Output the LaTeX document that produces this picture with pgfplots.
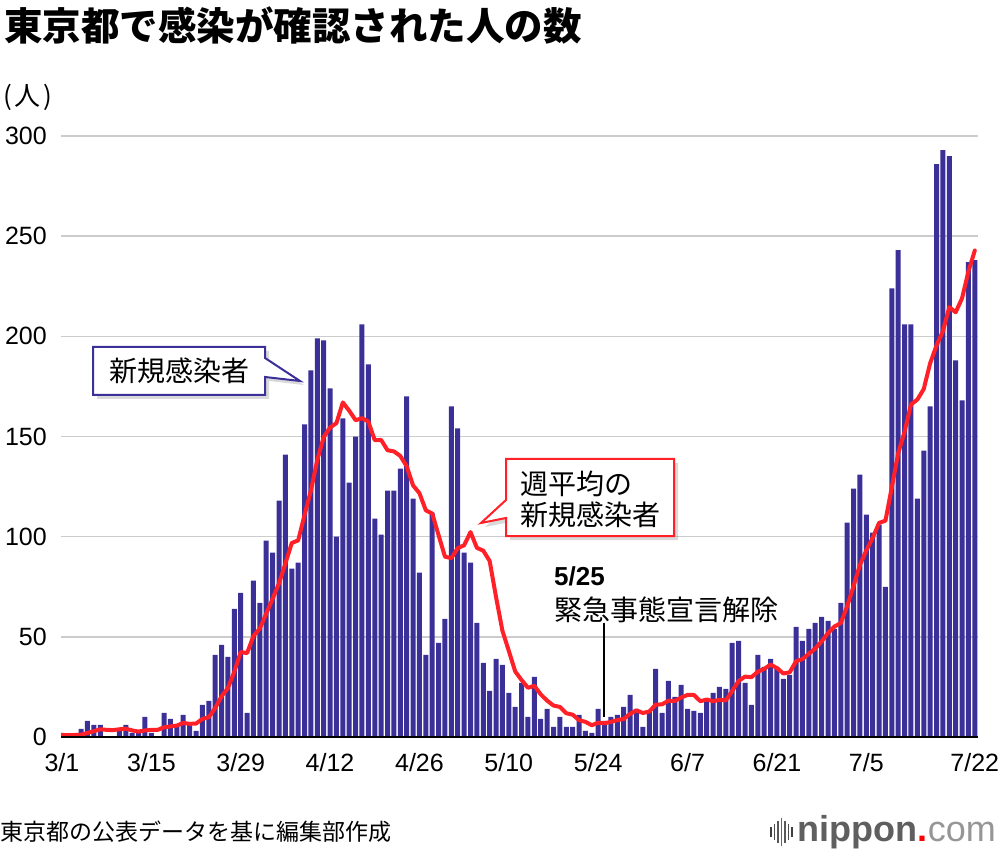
\documentclass[border=0pt]{standalone}
\usepackage{pgfplots}
\pgfplotsset{compat=1.18}
\usepackage{pgfplotstable}
\usepackage{fontspec}
\setmainfont{Liberation Sans}
\newfontfamily\cjk{Noto Sans CJK JP}
\usetikzlibrary{shadows}
\definecolor{barblue}{RGB}{59,47,152}
\definecolor{linered}{RGB}{255,32,40}
\definecolor{gridgray}{RGB}{204,204,204}
\definecolor{logogray}{RGB}{95,95,95}
\definecolor{logolight}{RGB}{150,150,150}

\pgfplotstableread{
d v
0 2
1 1
2 0
3 4
4 8
5 6
6 6
7 0
8 0
9 3
10 6
11 2
12 2
13 10
14 2
15 0
16 12
17 9
18 5
19 11
20 7
21 3
22 16
23 18
24 41
25 46
26 40
27 64
28 72
29 12
30 78
31 67
32 98
33 92
34 118
35 141
36 84
37 87
38 156
39 183
40 199
41 198
42 174
43 100
44 159
45 127
46 150
47 206
48 186
49 109
50 101
51 123
52 123
53 134
54 170
55 119
56 82
57 41
58 112
59 47
60 59
61 165
62 154
63 92
64 87
65 57
66 37
67 23
68 39
69 36
70 22
71 15
72 27
73 10
74 30
75 9
76 14
77 5
78 10
79 5
80 5
81 11
82 3
83 2
84 14
85 8
86 10
87 11
88 15
89 21
90 14
91 5
92 13
93 34
94 12
95 28
96 20
97 26
98 14
99 13
100 12
101 18
102 22
103 25
104 24
105 47
106 48
107 27
108 16
109 41
110 35
111 39
112 35
113 29
114 31
115 55
116 48
117 54
118 57
119 60
120 58
121 54
122 67
123 107
124 124
125 131
126 111
127 102
128 106
129 75
130 224
131 243
132 206
133 206
134 119
135 143
136 165
137 286
138 293
139 290
140 188
141 168
142 237
143 238
}\daily

\pgfplotstableread{
d a
0 1.0
1 1.0
2 1.0
3 1.2
4 2.0
5 2.9
6 3.86
7 3.57
8 3.43
9 3.86
10 4.14
11 3.29
12 2.71
13 3.29
14 3.57
15 3.57
16 4.86
17 5.29
18 5.71
19 7.00
20 6.57
21 6.71
22 9.00
23 9.86
24 14.43
25 20.29
26 24.43
27 32.57
28 42.43
29 41.86
30 50.43
31 54.14
32 61.57
33 69.00
34 76.71
35 86.57
36 96.86
37 98.14
38 110.86
39 123.00
40 138.29
41 149.71
42 154.43
43 156.71
44 167.00
45 162.86
46 158.14
47 159.14
48 157.43
49 148.14
50 148.29
51 143.14
52 142.57
53 140.29
54 135.14
55 125.57
56 121.71
57 113.14
58 111.57
59 100.71
60 90.00
61 89.29
62 94.29
63 95.71
64 102.29
65 94.43
66 93.00
67 87.86
68 69.86
69 53.00
70 43.00
71 32.71
72 28.43
73 24.57
74 25.57
75 21.29
76 18.14
77 15.71
78 15.00
79 11.86
80 11.14
81 8.43
82 7.57
83 5.86
84 7.14
85 6.86
86 7.57
87 8.43
88 9.00
89 11.57
90 13.29
91 12.00
92 12.71
93 16.14
94 16.29
95 18.14
96 18.00
97 19.71
98 21.00
99 21.00
100 17.86
101 18.71
102 17.86
103 18.57
104 18.29
105 23.00
106 28.00
107 30.14
108 29.86
109 32.57
110 34.00
111 36.14
112 34.43
113 31.71
114 32.29
115 37.86
116 38.86
117 41.57
118 44.14
119 47.71
120 51.86
121 55.14
122 56.86
123 65.29
124 75.29
125 85.86
126 93.14
127 99.43
128 106.86
129 108.00
130 124.71
131 141.71
132 152.43
133 166.00
134 168.43
135 173.71
136 186.57
137 195.43
138 202.57
139 214.57
140 212.00
141 219.00
142 232.43
143 242.86
}\avg

\begin{document}
\begin{tikzpicture}[x=1pt,y=1pt]
\path[use as bounding box] (0,0) rectangle (1000,852);
\begin{axis}[
  at={(61pt,115pt)}, anchor=south west,
  scale only axis, width=917pt, height=601pt,
  xmin=-0.15, xmax=143.5, ymin=0, ymax=300,
  axis line style={draw=none},
  major tick length=0pt,
  ymajorgrids, grid style={gridgray, line width=1.6pt},
  xtick={0,14,28,42,56,70,84,98,112,126,143},
  xticklabels={3/1,3/15,3/29,4/12,4/26,5/10,5/24,6/7,6/21,7/5,7/22},
  ytick={0,50,100,150,200,250,300},
  yticklabels={0,50,100,150,200,250,300},
  xticklabel style={font=\fontsize{25}{25}\selectfont, anchor=base, inner sep=0pt, yshift=-34pt},
  yticklabel style={font=\fontsize{25}{25}\selectfont, anchor=east, inner sep=0pt, xshift=-14pt},
]
\addplot[ybar, bar width=5pt, fill=barblue, draw=none] table[x=d, y=v] {\daily};
\addplot[linered, line width=4pt, line join=round, line cap=round, no marks] table[x=d, y=a] {\avg};
\draw[black, line width=3pt] (rel axis cs:0,0) -- (rel axis cs:1,0);
\end{axis}

% title and labels
\node[anchor=west, inner sep=0pt] at (4,826) {\cjk\bfseries\fontsize{38.5}{38.5}\selectfont 東京都で感染が確認された人の数};
\node[anchor=west, inner sep=0pt] at (3,755) {\cjk\fontsize{26}{26}\selectfont (\hspace{3pt}人\hspace{3pt})};
\node[anchor=west, inner sep=0pt] at (0,20) {\cjk\fontsize{23}{23}\selectfont 東京都の公表データを基に編集部作成};

% callout 1
\filldraw[barblue, line width=2pt, fill=white, drop shadow={shadow xshift=4pt, shadow yshift=-4pt, opacity=0.3}]
  (93,505) -- (265,505) -- (265,494) -- (300,471) -- (265,475) -- (265,457) -- (93,457) -- cycle;
\node[inner sep=0pt] at (179,481) {\cjk\fontsize{28}{28}\selectfont 新規感染者};

% callout 2
\filldraw[linered, line width=2pt, fill=white, drop shadow={shadow xshift=4pt, shadow yshift=-4pt, opacity=0.3}]
  (506,393) -- (674,393) -- (674,316) -- (506,316) -- (506,334) -- (481,329) -- (506,352) -- cycle;
\node[anchor=west, inner sep=0pt] at (520,368) {\cjk\fontsize{28}{28}\selectfont 週平均の};
\node[anchor=west, inner sep=0pt] at (520,337) {\cjk\fontsize{28}{28}\selectfont 新規感染者};

% 5/25 annotation
\node[anchor=west, inner sep=0pt] at (554,276) {\bfseries\fontsize{26}{26}\selectfont 5/25};
\node[anchor=west, inner sep=0pt] at (554,242) {\cjk\fontsize{28}{28}\selectfont 緊急事態宣言解除};
\draw[black, line width=1.5pt] (604,229) -- (604,135);

% logo
\foreach \xx/\hh/\gg in {771/10/75, 774.5/16/70, 778/22/65, 781.5/28/60, 785/22/65, 788.5/16/70, 792/10/75}{
  \draw[black!\gg!white, line width=1.6pt] (\xx,20-\hh/2) -- (\xx,20+\hh/2);
}
\node[anchor=east, inner sep=0pt] at (996,20) {\fontsize{36}{36}\selectfont{\color{logogray}\bfseries nippon}{\color{red}\bfseries .}{\color{logolight}com}};
\end{tikzpicture}
\end{document}
